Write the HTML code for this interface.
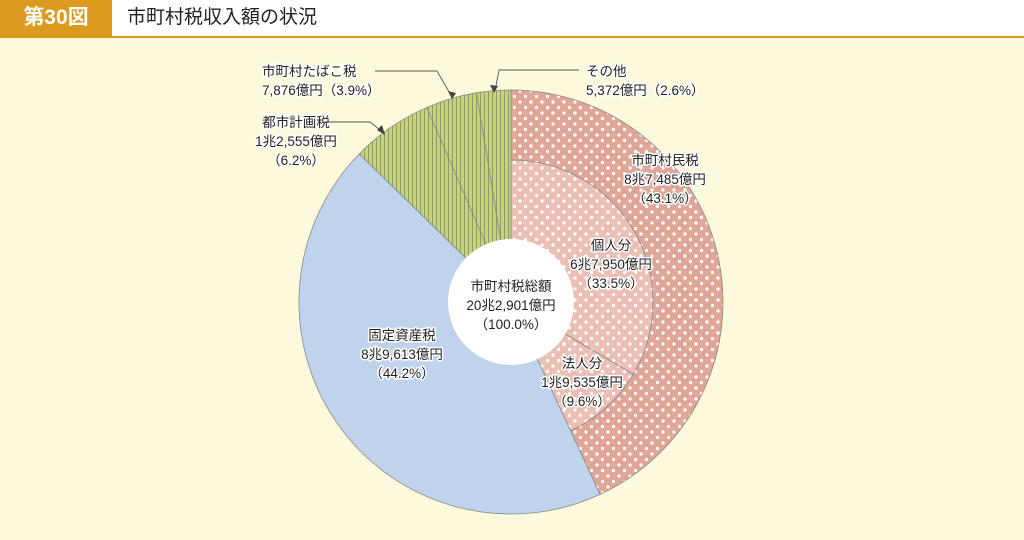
<!DOCTYPE html>
<html><head><meta charset="utf-8">
<style>
body{margin:0;width:1024px;height:540px;background:#fdf9dc;font-family:"Liberation Sans","Noto Sans CJK JP",sans-serif;overflow:hidden;position:relative}
#hdr{position:absolute;left:0;top:0;width:1024px;height:36px;background:#fff;border-bottom:2px solid #dc9a1e}
#fig{position:absolute;left:0;top:0;width:112px;height:36px;background:#dc9a1e;color:#fff;font-size:21px;font-weight:bold;line-height:36px;text-align:center}
#ttl{position:absolute;left:127px;top:0;height:36px;line-height:36px;font-size:19px;color:#222}
svg{position:absolute;left:0;top:0}
svg text{font-size:13.5px;fill:#222;text-anchor:middle}
.halo{stroke:#fff;stroke-width:3px;paint-order:stroke;stroke-linejoin:round}
</style></head><body>
<div id="hdr"><div id="fig">第30図</div><div id="ttl">市町村税収入額の状況</div></div>
<svg id="chart" width="1024" height="540">
<defs>
<pattern id="dotO" width="11" height="11" patternUnits="userSpaceOnUse"><rect width="11" height="11" fill="#e0a798"/><circle cx="3" cy="3" r="1.6" fill="#fff"/><circle cx="8.5" cy="8.5" r="1.6" fill="#fff"/></pattern>
<pattern id="dotI" width="11" height="11" patternUnits="userSpaceOnUse"><rect width="11" height="11" fill="#ecbfb5"/><circle cx="3" cy="3" r="1.6" fill="#fff"/><circle cx="8.5" cy="8.5" r="1.6" fill="#fff"/></pattern>
<pattern id="stripe" width="4" height="4" patternUnits="userSpaceOnUse"><rect width="4" height="4" fill="#c6d66a"/><rect width="1" height="4" fill="#8f9a70"/></pattern>
</defs>
</svg>
<script>
const outerNames=["市町村民税","固定資産税","都市計画税","市町村たばこ税","その他"];
const outerValues=[43.1,44.2,6.2,3.9,2.6];
const innerNames=["個人分","法人分"];
const innerValues=[33.5,9.6];
const NS="http://www.w3.org/2000/svg";
const svg=document.getElementById('chart');
const cx=511,cy=302,R=212,Ri=142,Rc=63;
const tot=outerValues.reduce((a,b)=>a+b,0);
function ang(p){return p/tot*2*Math.PI;}
function pt(a,r){return [cx+r*Math.sin(a),cy-r*Math.cos(a)];}
function slice(a0,a1,r,fill,name){
  const p=document.createElementNS(NS,'path');
  const [x0,y0]=pt(a0,r),[x1,y1]=pt(a1,r);
  p.setAttribute('d',`M${cx},${cy}L${x0},${y0}A${r},${r} 0 ${a1-a0>Math.PI?1:0} 1 ${x1},${y1}Z`);
  p.setAttribute('fill',fill);p.setAttribute('stroke','#888');p.setAttribute('stroke-width','0.8');
  
  
  svg.appendChild(p);
}
const fills=["url(#dotO)","#c0d3ec","url(#stripe)","url(#stripe)","url(#stripe)"];
let acc=0;
outerValues.forEach((v,i)=>{slice(ang(acc),ang(acc+v),R,fills[i],'slice-'+i);acc+=v;});
acc=0;
innerValues.forEach((v,i)=>{slice(ang(acc),ang(acc+v),Ri,"url(#dotI)",'inner-slice-'+i);acc+=v;});
const c=document.createElementNS(NS,'circle');
c.setAttribute('cx',cx);c.setAttribute('cy',cy);c.setAttribute('r',Rc);c.setAttribute('fill','#fff');


svg.appendChild(c);
function label(x,y,lines,name,anchor){
  const t=document.createElementNS(NS,'text');
  t.setAttribute('class','halo');
  if(anchor)t.style.textAnchor=anchor;
  
  
  lines.forEach((l,i)=>{const s=document.createElementNS(NS,'tspan');s.setAttribute('x',x);s.setAttribute('y',y+i*19);s.textContent=l;t.appendChild(s);});
  svg.appendChild(t);
}
label(511,291,["市町村税総額","20兆2,901億円","（100.0%）"],'total-label');
label(665,165,["市町村民税","8兆7,485億円","（43.1%）"],'label-shichosonminzei');
label(611,250,["個人分","6兆7,950億円","（33.5%）"],'label-kojin');
label(582,368,["法人分","1兆9,535億円","（9.6%）"],'label-hojin');
label(402,340,["固定資産税","8兆9,613億円","（44.2%）"],'label-kotei');
label(296,127,["都市計画税","1兆2,555億円","（6.2%）"],'label-toshi');
label(262,76,["市町村たばこ税"],'label-tabako','start');
label(262,95,["7,876億円（3.9%）"],'label-tabako-value','start');
label(586,76,["その他"],'label-other','start');
label(586,95,["5,372億円（2.6%）"],'label-other-value','start');
function leader(d,name){
  const p=document.createElementNS(NS,'path');
  p.setAttribute('d',d);p.setAttribute('fill','none');p.setAttribute('stroke','#555');p.setAttribute('stroke-width','0.9');
  
  
  svg.appendChild(p);
}
leader('M375,71L437,71L452,97','leader-tabako');
leader('M324,122L370,122L384,133','leader-toshi');
leader('M579,70L499,70L495,91','leader-other');
[[452,99,448,91,456,93],[385,135,377,130,382,125],[494,93,490,85,498,86]].forEach((a,i)=>{
  const p=document.createElementNS(NS,'polygon');
  p.setAttribute('points',`${a[0]},${a[1]} ${a[2]},${a[3]} ${a[4]},${a[5]}`);p.setAttribute('fill','#444');
  
  
  svg.appendChild(p);
});
</script>
</body></html>
